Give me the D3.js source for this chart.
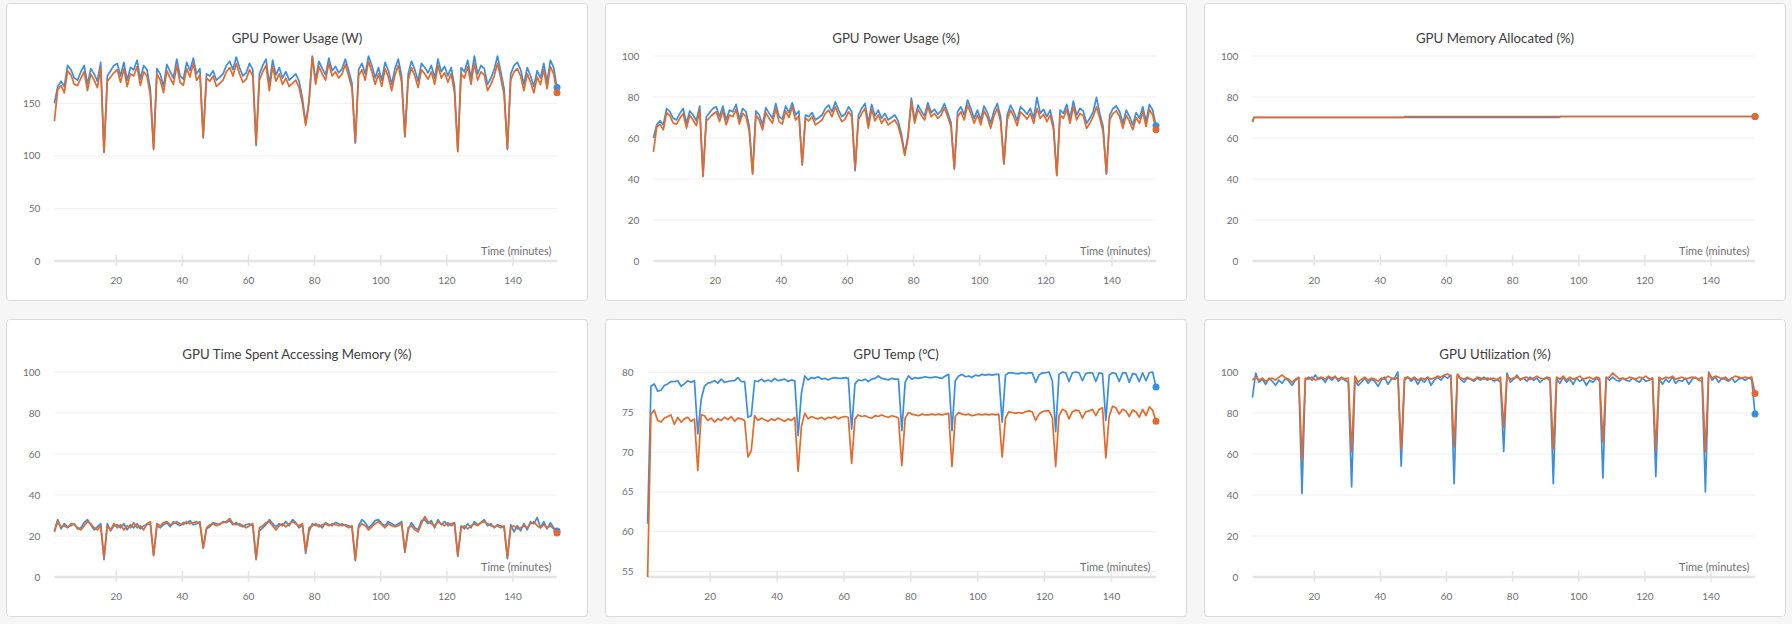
<!DOCTYPE html>
<html>
<head>
<meta charset="utf-8">
<script src="https://cdn.jsdelivr.net/npm/d3@7"></script>
<style>
  html, body { margin: 0; padding: 0; background: #f6f6f6; }
  svg { display: block; font-family: "Source Sans Pro", Lato, "Noto Sans", sans-serif; }
</style>
</head>
<body>
<svg id="chart" width="1792" height="624"></svg>
<script>
// sample times (one reading per minute)
const minutes = d3.range(153).map(i => 1.3 + i);

// GPU Power Usage (W)
const powerW_gpu0 = [150,166,171,166,186,182,174,172,180,186,168,183,178,171,189, 104,
  176,181,186,188,176,189,172,184,182,191,173,186,182,164, 107,
  183,178,166,187,180,174,192,176,173,189,181,193,178,183, 117,
  178,176,181,172,175,178,186,190,182,194,184,176,179,188,182, 110,
  178,186,192,168,191,177,184,174,180,172,175,178,171,155, 131,
  153,195,172,190,183,177,193,181,185,179,183,192,181,169, 112,
  182,188,178,195,186,174,184,172,189,181,168,183,192,176, 118,
  178,190,182,171,188,184,179,186,174,192,180,185,176,184,166, 105,
  184,180,191,174,195,178,186,183,168,174,182,195,180,164, 106,
  178,186,189,182,168,184,176,166,181,174,188,170,191,184,165];
const powerW_gpu1 = [133,163,167,160,181,177,168,167,174,180,162,178,172,165,184, 103,
  171,175,179,182,170,183,166,178,176,185,167,180,176,158, 106,
  178,172,160,181,174,168,186,170,167,183,175,188,172,177, 118,
  174,171,176,166,169,172,180,184,176,188,178,170,173,182,176, 112,
  172,180,186,162,185,171,178,168,174,166,169,172,165,150, 129,
  150,194,168,185,178,172,188,176,180,174,178,187,176,164, 113,
  176,182,172,190,180,168,178,166,183,175,162,177,186,170, 119,
  172,184,176,165,182,178,173,180,168,186,174,179,170,178,160, 104,
  178,174,185,168,188,172,180,177,162,168,176,188,174,158, 107,
  172,180,183,176,162,178,170,160,175,168,182,164,185,178,160];

// GPU Power Usage (%)
const powerPct_gpu0 = [60,66.4,68.4,66.4,74.4,72.8,69.6,68.8,72,74.4,67.2,73.2,71.2,68.4,75.6, 41.6,
  70.4,72.4,74.4,75.2,70.4,75.6,68.8,73.6,72.8,76.4,69.2,74.4,72.8,65.6, 42.8,
  73.2,71.2,66.4,74.8,72,69.6,76.8,70.4,69.2,75.6,72.4,77.2,71.2,73.2, 46.8,
  71.2,70.4,72.4,68.8,70,71.2,74.4,76,72.8,77.6,73.6,70.4,71.6,75.2,72.8, 44,
  71.2,74.4,76.8,67.2,76.4,70.8,73.6,69.6,72,68.8,70,71.2,68.4,62, 52.4,
  61.2,79.5,68.8,76,73.2,70.8,77.2,72.4,74,71.6,73.2,76.8,72.4,67.6, 44.8,
  72.8,75.2,71.2,78.5,74.4,69.6,73.6,68.8,75.6,72.4,67.2,73.2,76.8,70.4, 47.2,
  71.2,76,72.8,68.4,75.2,73.6,71.6,74.4,69.6,79.8,72,74,70.4,73.6,66.4, 42,
  73.6,72,76.4,69.6,78,71.2,74.4,73.2,67.2,69.6,72.8,79.8,72,65.6, 42.4,
  71.2,74.4,75.6,72.8,67.2,73.6,70.4,66.4,72.4,69.6,75.2,68,76.4,73.6,66];
const powerPct_gpu1 = [53.2,65.2,66.8,64,72.4,70.8,67.2,66.8,69.6,72,64.8,71.2,68.8,66,73.6, 41.2,
  68.4,70,71.6,72.8,68,73.2,66.4,71.2,70.4,74,66.8,72,70.4,63.2, 42.4,
  71.2,68.8,64,72.4,69.6,67.2,74.4,68,66.8,73.2,70,75.2,68.8,70.8, 47.2,
  69.6,68.4,70.4,66.4,67.6,68.8,72,73.6,70.4,75.2,71.2,68,69.2,72.8,70.4, 44.8,
  68.8,72,74.4,64.8,74,68.4,71.2,67.2,69.6,66.4,67.6,68.8,66,60, 51.6,
  60,77.6,67.2,74,71.2,68.8,75.2,70.4,72,69.6,71.2,74.8,70.4,65.6, 45.2,
  70.4,72.8,68.8,76,72,67.2,71.2,66.4,73.2,70,64.8,70.8,74.4,68, 47.6,
  68.8,73.6,70.4,66,72.8,71.2,69.2,72,67.2,74.4,69.6,71.6,68,71.2,64, 41.6,
  71.2,69.6,74,67.2,75.2,68.8,72,70.8,64.8,67.2,70.4,75.2,69.6,63.2, 42.8,
  68.8,72,73.2,70.4,64.8,71.2,68,64,70,67.2,72.8,65.6,74,71.2,64];

// GPU Memory Allocated (%) - nearly flat, only a few readings needed
const memAllocTime_gpu0 = [1.3, 1.8, 94, 94.5, 153.3];
const memAlloc_gpu0 = [68.2, 70.0, 70.0, 70.5, 70.5];
const memAllocTime_gpu1 = [1.3, 1.8, 47, 47.5, 153.3];
const memAlloc_gpu1 = [67.7, 70.1, 70.1, 70.5, 70.5];

// GPU Time Spent Accessing Memory (%)
const memAccess_gpu0 = [22.5,28,23.5,26,24.5,25,26,23.5,24,26.5,28,25.5,23,24.5,26, 8.5,
  26,22.5,25,25.5,24,26,23,25.5,24,26,23.5,25,25.5,26, 10.5,
  25,24,25.5,26.5,24.5,27,26,25,26.5,26,27.5,25.5,26,27, 14,
  23.5,24.5,26.5,26,25.5,27,26.5,27.5,25.5,26.5,25,24.5,25.5,26,25, 8.5,
  22.5,24,25.5,28,26,24.5,26,25,27,25,28,26.5,24,25.5, 11.5,
  22,26,25,25.5,24,26.5,25.5,25,26.5,26,25,25.5,25,24, 8,
  25,28,26.5,24,25.5,27.5,28,26,25,27,26,25,26,27, 12,
  23,26.5,24,23,27.5,28,26,27.5,24,28,25.5,27,25,26,26.5, 10,
  25,23.5,26,24,27,25.5,26.5,28,25,26,24,25.5,25,24, 9,
  25.5,22,25,22.5,26,23,27,26,29,24,27,23.5,26.5,24,22.5];
const memAccess_gpu1 = [22,27,24.5,25,24,26,25.5,24,23,25,27,26,24,23,25, 9.5,
  25,23,26,24,25.5,23,25,24,26.5,24,25,23,26,27, 10.5,
  26,25,26.5,27,25.5,26,27,26,25.5,27,26,26.5,27,26, 14.5,
  24,25.5,26,25,26,26.5,27,28.5,26,25.5,26,25,24,25,26, 9,
  24,25,26.5,27,25,23,25,26,24.5,26,27,26,25,26, 12.5,
  24,25,26,24.5,25.5,26,25,26,25.5,25,26,25,24,25, 8.5,
  24,26,25,23,24.5,26,27,25.5,24,26,25,24.5,25,26, 13,
  24,25,23,22,26,29.5,27,26,25,27,26,25,26.5,25,26, 10.5,
  24,25,23.5,25,26,25,26.5,27,26,25,24.5,25,24,25, 9.5,
  24,25,23.5,24,25,24,26,27,25,24,25.5,24,25,23.5,21.5];

// GPU Temp (℃)
const temp_gpu0 = [61,78.3,78.6,77.7,77.8,78.4,78.6,78.9,78.9,79.0,78.3,78.6,79.0,78.8,79.0, 72.3,
  76.6,78.3,78.7,78.8,79.0,78.7,79.2,78.8,78.9,79.0,79.0,79.4,78.9,78.9, 74.4,
  74.6,79.0,78.9,79.2,78.9,79.1,78.9,79.3,79.0,79.1,79.2,78.9,79.1,79.0, 72.1,
  77.5,79.6,79.1,79.4,79.3,79.5,79.2,79.3,79.1,79.3,79.4,79.3,79.3,79.4,79.3, 72.9,
  78.6,79.1,79.0,79.2,78.9,79.2,79.3,79.6,79.3,79.2,79.1,79.3,79.2,79.2, 72.7,
  78.8,79.6,79.2,79.4,79.3,79.4,79.5,79.4,79.4,79.5,79.4,79.3,79.6,79.8, 72.7,
  79.0,79.6,79.8,79.5,79.6,79.4,79.7,79.6,79.8,79.7,79.8,79.7,79.8,79.8, 73.8,
  79.7,80.0,80.0,79.9,79.9,80.0,79.9,80.0,80.0,78.8,79.7,80.0,80.0,80.1,79.0, 72.6,
  79.8,80.1,80.0,78.9,80.0,80.1,80.0,79.0,79.9,80.0,80.0,78.9,80.0,79.9, 74.0,
  79.7,80.0,79.9,78.9,80.0,80.0,78.8,79.9,79.8,78.9,80.0,79.0,80.0,80.1,78.2];
const temp_gpu1 = [54.3,74.8,75.3,74.0,73.8,74.3,74.5,74.7,73.5,74.4,73.8,74.2,74.4,73.9,74.2, 67.7,
  74.7,74.6,74.0,74.3,73.8,74.2,74.0,74.4,74.1,74.5,73.9,74.3,74.2,74.0, 69.4,
  70.2,74.6,74.0,74.3,74.1,73.9,74.2,74.0,74.3,74.1,73.9,74.2,74.0,74.4, 67.6,
  73.3,74.9,74.2,74.5,74.3,74.2,74.4,74.1,74.4,74.3,74.5,74.2,74.4,74.5,74.4, 68.6,
  74.2,74.7,74.5,74.6,74.4,74.3,74.6,74.5,74.7,74.5,74.4,74.6,74.5,74.3, 68.3,
  74.3,75.0,74.8,74.7,74.6,74.8,74.7,74.7,74.8,74.7,74.8,74.7,74.8,74.9, 68.2,
  74.5,75.0,74.8,74.7,74.8,74.6,74.7,74.8,74.7,74.8,74.7,74.8,74.7,74.8, 69.4,
  74.3,75.1,75.0,74.9,75.0,74.9,75.1,75.2,75.1,74.0,74.8,75.1,75.2,75.2,74.4, 68.2,
  74.6,75.4,75.2,74.2,75.1,75.3,75.2,74.3,75.1,75.2,75.4,74.6,75.4,75.6, 69.3,
  74.5,75.8,75.6,74.8,75.4,75.2,74.5,75.3,75.1,74.4,75.4,74.6,75.7,75.3,73.9];

// GPU Utilization (%)
const util_gpu0 = [87.5,99.5,95,96.5,94,97,95.5,93.5,96,94.5,97,95.5,93.5,96,97, 40.7,
  96,97.5,96,98.5,96.5,97,95,97.5,96,98,95.5,97,96,95, 43.9,
  96,93.5,95,97,94.5,96.5,95.5,93,96,97.5,94,96.5,97,100, 54,
  96,97.5,95.5,97,94,96.5,95,97.5,93.5,96,97.5,96,98,97,98.5, 45.5,
  98.5,96.5,95,97,96.5,95.5,97,96,97.5,96,97,95.5,96.5,95, 61.2,
  99.5,95,96.5,98.5,96,97,95.5,97.5,96,97,95,96.5,97,96, 45.5,
  96.5,94.5,97.5,95,96.5,94,97,95.5,96.5,93.5,96,95,97,95.5, 48.3,
  97.5,96,97.5,96,95.5,97,96,95.5,97,96,95,97,95.5,96,97, 49,
  97,94,96.5,95,97.5,94.5,96,95.5,97,94,96.5,97.5,96,95.5, 41.5,
  100,96,97.5,95,97,96.5,95.5,97,95,96.5,97,96,97,96.5,79.5];
const util_gpu1 = [96,97.5,96,97,95.5,96.5,97,96,97.5,98.5,97,96.5,95,96.5,97.5, 57,
  97,96.5,97.5,96,97,97.5,96.5,98,97,97.5,96.5,97.5,96.5,97, 61,
  98,95,96.5,97.5,96,97,96.5,95.5,97,96.5,98,97,96.5,97.5, 62.5,
  97,97.5,96.5,97.5,96,97,96.5,97.5,96.5,97,98,97.5,98.5,99,98, 63.3,
  99,97,96.5,97.5,96.5,96,97.5,97,96.5,97,96.5,97,96,97.5, 73,
  98,96.5,97,97.5,96.5,97,97.5,96.5,97,98,97,96.5,97.5,97, 62.5,
  97.5,96.5,98,96,97.5,96.5,97,98,96.5,97,97.5,96.5,97.5,97, 65.7,
  97,97.5,99.5,98,96.5,97,96.5,97.5,97,96.5,97.5,97,98,96.5,97, 61.7,
  97.5,96.5,97.5,97,98,96.5,97,97.5,96.5,97,97.5,97,96.5,97.5, 61,
  99.5,97,98,97.5,96.5,97.5,96,97,98,97.5,97,97.5,97,97.5,89.5];

const seriesColors = ["#3a8ee0", "#e5692b"];

const panels = [
  {title: "GPU Power Usage (W)", times: [minutes, minutes], values: [powerW_gpu0, powerW_gpu1], yMode: "zeroMax"},
  {title: "GPU Power Usage (%)", times: [minutes, minutes], values: [powerPct_gpu0, powerPct_gpu1], yMode: "percent"},
  {title: "GPU Memory Allocated (%)", times: [memAllocTime_gpu0, memAllocTime_gpu1], values: [memAlloc_gpu0, memAlloc_gpu1], yMode: "percent"},
  {title: "GPU Time Spent Accessing Memory (%)", times: [minutes, minutes], values: [memAccess_gpu0, memAccess_gpu1], yMode: "percent"},
  {title: "GPU Temp (℃)", times: [minutes, minutes], values: [temp_gpu0, temp_gpu1], yMode: "extent"},
  {title: "GPU Utilization (%)", times: [minutes, minutes], values: [util_gpu0, util_gpu1], yMode: "percent"}
];

let fonts = {};

init();

function init(){
    let svg = d3.select("#chart");
    let panelW = 582, panelH = 298;
    let lefts = [6, 605, 1204], tops = [3, 319];

    // the reference fonts are a bit wider than what is installed, so size by width
    fonts.title = fit_size(svg, "GPU Power Usage (W)", 14, 130.7);
    fonts.axis = fit_size(svg, "Time (minutes)", 11, 70.7);
    fonts.tick = 10;

    panels.forEach((p, k) => {
        let g = svg.append("g")
            .attr("transform", `translate(${lefts[k % 3]},${tops[Math.floor(k / 3)]})`);
        draw_panel(g, p, panelW, panelH);
    });
}

function fit_size(svg, str, base, target){
    let t = svg.append("text").attr("font-size", base).text(str);
    let w = t.node().getComputedTextLength();
    t.remove();
    return w > 0 ? base * target / w : base;
}

function draw_panel(g, p, w, h){
    let top = 53, bottom = 258, right = w - 31;

    g.append("rect")
        .attr("x", 0.5).attr("y", 0.5)
        .attr("width", w - 1).attr("height", h - 1)
        .attr("rx", 3)
        .attr("fill", "#fff")
        .attr("stroke", "#dadada");

    g.append("text")
        .attr("x", w / 2).attr("y", 40)
        .attr("text-anchor", "middle")
        .attr("font-size", fonts.title)
        .attr("fill", "#3d3d3d")
        .text(p.title);

    let all = p.values.flat();
    let yDomain;
    if (p.yMode === "percent") yDomain = [0, 100];
    else if (p.yMode === "zeroMax") yDomain = [0, d3.max(all)];
    else yDomain = d3.extent(all);
    let y = d3.scaleLinear().domain(yDomain).range([bottom, top]);
    let yTicks = y.ticks(5);

    // y labels first, so the plot can start right after the widest one
    let yLab = g.append("g").selectAll("text").data(yTicks).enter().append("text")
        .attr("y", d => y(d))
        .attr("dy", "0.35em")
        .attr("text-anchor", "end")
        .attr("font-size", fonts.tick)
        .attr("fill", "#6f6f6f")
        .text(d => d);
    let labW = d3.max(yLab.nodes(), n => n.getComputedTextLength());
    let labRight = 17 + labW;
    yLab.attr("x", labRight);
    let left = labRight + 14;

    let x = d3.scaleLinear().domain(d3.extent(minutes)).range([left, right]);

    // horizontal grid
    g.append("g").selectAll("line").data(yTicks.filter(d => y(d) < bottom - 1)).enter().append("line")
        .attr("x1", left).attr("x2", right)
        .attr("y1", d => y(d)).attr("y2", d => y(d))
        .attr("stroke", "#efefef").attr("stroke-width", 1);

    // x axis
    g.append("line")
        .attr("x1", left).attr("x2", right)
        .attr("y1", bottom).attr("y2", bottom)
        .attr("stroke", "#e4e4e4").attr("stroke-width", 2.5);
    let xTicks = x.ticks(7);
    let xt = g.append("g").selectAll("g").data(xTicks).enter().append("g")
        .attr("transform", d => `translate(${x(d)},0)`);
    xt.append("line")
        .attr("y1", bottom - 6).attr("y2", bottom + 5)
        .attr("stroke", "#e4e4e4").attr("stroke-width", 1.5);
    xt.append("text")
        .attr("y", bottom + 23)
        .attr("text-anchor", "middle")
        .attr("font-size", fonts.tick)
        .attr("fill", "#6f6f6f")
        .text(d => d);

    g.append("text")
        .attr("x", right - 5.5).attr("y", bottom - 6)
        .attr("text-anchor", "end")
        .attr("font-size", fonts.axis)
        .attr("fill", "#6f6f6f")
        .text("Time (minutes)");

    // lines, gpu1 (orange) drawn on top
    p.values.forEach((vals, s) => {
        let ts = p.times[s];
        let line = d3.line().x((d, i) => x(ts[i])).y(d => y(d));
        g.append("path")
            .datum(vals)
            .attr("d", line)
            .attr("fill", "none")
            .attr("stroke", seriesColors[s])
            .attr("stroke-width", 1.7)
            .attr("stroke-linejoin", "round");
    });
    p.values.forEach((vals, s) => {
        let ts = p.times[s];
        g.append("circle")
            .attr("cx", x(ts[ts.length - 1]))
            .attr("cy", y(vals[vals.length - 1]))
            .attr("r", 3.5)
            .attr("fill", seriesColors[s]);
    });
}
</script>
</body>
</html>
